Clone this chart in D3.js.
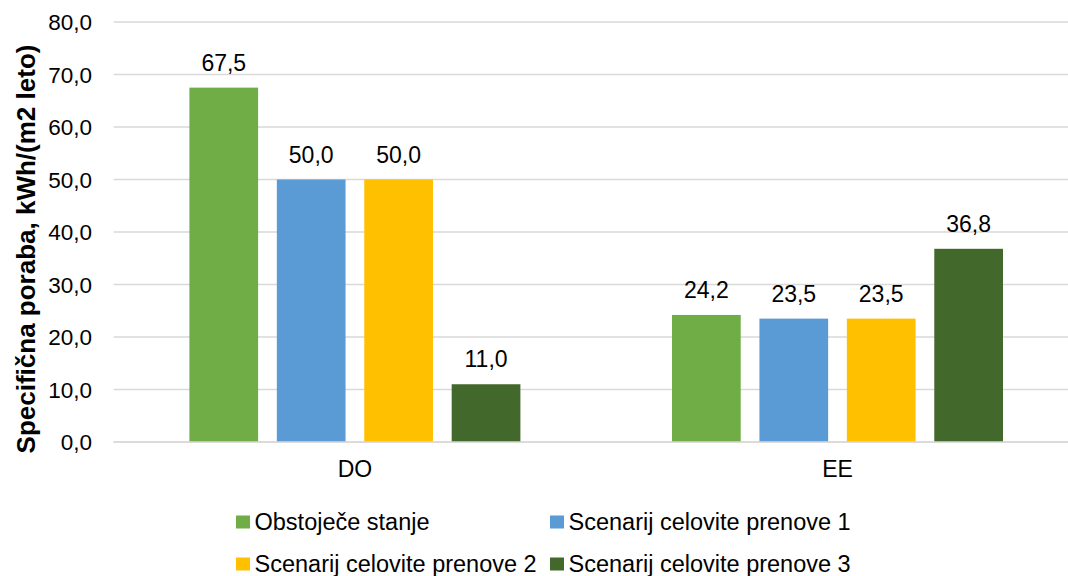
<!DOCTYPE html>
<html>
<head>
<meta charset="utf-8">
<script src="https://cdn.jsdelivr.net/npm/d3@7"></script>
<style>
  body { margin: 0; background: #fff; }
  text { font-family: "Liberation Sans", Arial, sans-serif; fill: #000; }
</style>
</head>
<body>
<div id="chart"></div>
<script>
// data
const categories = ["DO", "EE"];
const seriesNames = ["Obstoječe stanje", "Scenarij celovite prenove 1", "Scenarij celovite prenove 2", "Scenarij celovite prenove 3"];
const seriesColors = ["#70ad47", "#5b9bd5", "#ffc000", "#43682b"];
const values = [
  [67.5, 24.2],
  [50.0, 23.5],
  [50.0, 23.5],
  [11.0, 36.8]
];
const yTicks = [0, 10, 20, 30, 40, 50, 60, 70, 80];
const yTitle = "Specifična poraba, kWh/(m2 leto)";

const width = 1068;
const height = 576;
const plotLeft = 113.6, plotRight = 1078.8, plotTop = 22, plotBottom = 442;

const svg = d3.select("#chart")
  .append("svg")
  .attr("width", width)
  .attr("height", height)
  .style("background", "#fff");

const x0 = d3.scaleBand()
  .domain(categories)
  .range([plotLeft, plotRight]);

const outer = 75.8;
const x1 = d3.scaleBand()
  .domain(d3.range(seriesNames.length))
  .range([outer, x0.bandwidth() - outer])
  .paddingInner(0.214);

const y = d3.scaleLinear()
  .domain([0, 80])
  .range([plotBottom, plotTop]);

const fmt = v => d3.format(".1f")(v).replace(".", ",");

// gridlines
svg.append("g")
  .selectAll("line")
  .data(yTicks)
  .join("line")
  .attr("x1", plotLeft)
  .attr("x2", plotRight)
  .attr("y1", d => y(d))
  .attr("y2", d => y(d))
  .attr("stroke", "#d9d9d9")
  .attr("stroke-width", 1.3);

// y axis labels
svg.append("g")
  .selectAll("text")
  .data(yTicks)
  .join("text")
  .attr("x", 92)
  .attr("y", d => y(d))
  .attr("dy", "0.36em")
  .attr("text-anchor", "end")
  .style("font-size", "22.5px")
  .text(fmt);

// y title
svg.append("text")
  .attr("transform", "translate(35," + 249 + ") rotate(-90)")
  .attr("text-anchor", "middle")
  .style("font-size", "26px")
  .style("font-weight", "bold")
  .text(yTitle);

// bars
const groups = svg.append("g")
  .selectAll("g")
  .data(values)
  .join("g")
  .attr("fill", (d, i) => seriesColors[i]);

groups.each(function(row, si) {
  const g = d3.select(this);
  g.selectAll("rect")
    .data(row)
    .join("rect")
    .attr("x", (d, ci) => x0(categories[ci]) + x1(si))
    .attr("y", d => y(d))
    .attr("width", x1.bandwidth())
    .attr("height", d => y(0) - y(d));

  g.selectAll("text")
    .data(row)
    .join("text")
    .attr("x", (d, ci) => x0(categories[ci]) + x1(si) + x1.bandwidth() / 2)
    .attr("y", d => y(d) - 17)
    .attr("text-anchor", "middle")
    .style("font-size", "23px")
    .style("fill", "#000")
    .text(fmt);
});

// x axis line
svg.append("line")
  .attr("x1", plotLeft)
  .attr("x2", plotRight)
  .attr("y1", y(0))
  .attr("y2", y(0))
  .attr("stroke", "#d9d9d9")
  .attr("stroke-width", 1.3);

// category labels
svg.append("g")
  .selectAll("text")
  .data(categories)
  .join("text")
  .attr("x", d => x0(d) + x0.bandwidth() / 2)
  .attr("y", 476.5)
  .attr("text-anchor", "middle")
  .style("font-size", "23px")
  .text(d => d);

// legend
const legendPos = [[236, 522], [550, 522], [236, 564], [550, 564]];
const legend = svg.append("g")
  .selectAll("g")
  .data(seriesNames)
  .join("g")
  .attr("transform", (d, i) => "translate(" + legendPos[i][0] + "," + legendPos[i][1] + ")");

legend.append("rect")
  .attr("x", 0)
  .attr("y", -6.5)
  .attr("width", 14)
  .attr("height", 13)
  .attr("fill", (d, i) => seriesColors[i]);

legend.append("text")
  .attr("x", 18.5)
  .attr("y", 0)
  .attr("dy", "0.36em")
  .style("font-size", "23.5px")
  .text(d => d);
</script>
</body>
</html>
